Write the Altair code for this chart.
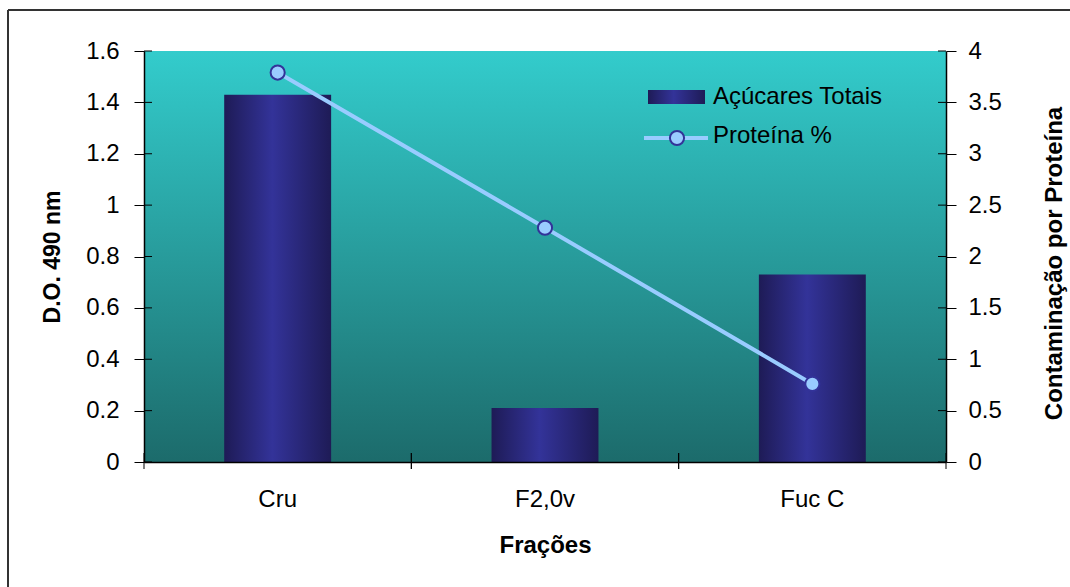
import altair as alt
import pandas as pd

# Frações analisadas e medidas
fracoes = ["Cru", "F2,0v", "Fuc C"]
acucares_totais = [1.43, 0.21, 0.73]      # D.O. 490 nm
proteina_pct = [3.79, 2.28, 0.76]         # contaminação por proteína
do_ticks = [0, 0.2, 0.4, 0.6, 0.8, 1.0, 1.2, 1.4, 1.6]
prot_ticks = [0, 0.5, 1, 1.5, 2, 2.5, 3, 3.5, 4]
series = ["Açúcares Totais", "Proteína %"]

W, H = 802, 411
FONT = "Liberation Sans"
LINE_BLUE = "#99CCFF"
NAVY = "#333399"
PAD_INNER, PAD_OUTER = 0.6, 0.3
STEP = W / (len(fracoes) - PAD_INNER + 2 * PAD_OUTER)
GAP = STEP * PAD_INNER / 2   # distance from a bar edge to the band boundary

df = pd.DataFrame({"fracao": fracoes, "acucares": acucares_totais, "proteina": proteina_pct})
ticks_df = pd.DataFrame({"do": do_ticks, "prot": prot_ticks})
legend_df = pd.DataFrame({"serie": series})
one_row = pd.DataFrame({"k": [0]})

bg_gradient = alt.LinearGradient(
    gradient="linear", x1=0, x2=0, y1=0, y2=1,
    stops=[alt.GradientStop(offset=0, color="#33CCCC"),
           alt.GradientStop(offset=1, color="#1C6B6B")],
)
bar_gradient = alt.LinearGradient(
    gradient="linear", x1=0, x2=1, y1=0, y2=0,
    stops=[alt.GradientStop(offset=0, color="#1E1B56"),
           alt.GradientStop(offset=0.45, color=NAVY),
           alt.GradientStop(offset=1, color="#1E1B56")],
)

label_style = dict(labelFont=FONT, labelFontSize=24, labelColor="black",
                   titleFont=FONT, titleFontWeight="bold",
                   titleColor="black", domainColor="black", tickColor="black",
                   domainWidth=1.5, grid=False, zindex=1)

x_scale = alt.Scale(paddingInner=PAD_INNER, paddingOuter=PAD_OUTER)
x_enc = alt.X(
    "fracao:N", sort=fracoes, scale=x_scale,
    axis=alt.Axis(title="Frações", labelAngle=0, ticks=False,
                  labelPadding=44, labelBaseline="alphabetic", titleFontSize=24,
                  titleX=W / 2, titleY=90, titleBaseline="alphabetic", **label_style),
)

# Fundo do gráfico em degradê
background = alt.Chart(one_row).mark_rect(color=bg_gradient).encode(
    x=alt.value(0), x2=alt.value(W), y=alt.value(0), y2=alt.value(H)
)

bars = alt.Chart(df).mark_bar(color=bar_gradient).encode(
    x=x_enc,
    y=alt.Y("acucares:Q", scale=alt.Scale(domain=[0, 1.6], nice=False),
            axis=alt.Axis(values=do_ticks, format="~g", title="D.O. 490 nm",
                          tickSize=10, labelPadding=15, titleAngle=270, titleFontSize=23,
                          titleX=-85, titleY=H / 2, titleBaseline="alphabetic",
                          **label_style)),
)

prot_scale = alt.Scale(domain=[0, 4], nice=False)

line = alt.Chart(df).mark_line(color=LINE_BLUE, strokeWidth=4).encode(
    x=alt.X("fracao:N", sort=fracoes),
    y=alt.Y("proteina:Q", scale=prot_scale,
            axis=alt.Axis(orient="right", values=prot_ticks, format="~g",
                          title="Contaminação por Proteína", tickSize=10,
                          labelPadding=12, titleAngle=270, titleFontSize=24,
                          titleX=115, titleY=212,
                          titleBaseline="alphabetic", **label_style)),
)

points = alt.Chart(df).mark_circle(size=200, color=LINE_BLUE, opacity=1,
                                   stroke=NAVY, strokeWidth=2).encode(
    x=alt.X("fracao:N", sort=fracoes),
    y=alt.Y("proteina:Q", scale=prot_scale, axis=None),
)

# Marcas de escala cruzando os eixos verticais (lado interno)
inner_left = alt.Chart(ticks_df).mark_rule(color="black", strokeWidth=1).encode(
    y=alt.Y("do:Q", scale=alt.Scale(domain=[0, 1.6], nice=False), axis=None),
    x=alt.value(0), x2=alt.value(8),
)
inner_right = alt.Chart(ticks_df).mark_rule(color="black", strokeWidth=1).encode(
    y=alt.Y("prot:Q", scale=prot_scale, axis=None),
    x=alt.value(W - 8), x2=alt.value(W),
)

# Marcas do eixo X nos limites entre as categorias
x_ticks_start = alt.Chart(df).mark_rule(color="black", strokeWidth=1, xOffset=-GAP).encode(
    x=alt.X("fracao:N", sort=fracoes, bandPosition=0),
    y=alt.value(H - 9), y2=alt.value(H + 7),
)
x_ticks_end = alt.Chart(df).mark_rule(color="black", strokeWidth=1, xOffset=GAP).encode(
    x=alt.X("fracao:N", sort=fracoes, bandPosition=1),
    y=alt.value(H - 9), y2=alt.value(H + 7),
)

# Legenda dentro da área do gráfico
leg_rect = alt.Chart(legend_df).transform_filter(
    alt.datum.serie == series[0]
).mark_rect(color=bar_gradient).encode(
    x=alt.value(504), x2=alt.value(561), y=alt.value(39), y2=alt.value(53)
)
leg_line = alt.Chart(legend_df).transform_filter(
    alt.datum.serie == series[1]
).mark_rule(color=LINE_BLUE, strokeWidth=4).encode(
    x=alt.value(500), x2=alt.value(564), y=alt.value(87)
)
leg_point = alt.Chart(legend_df).transform_filter(
    alt.datum.serie == series[1]
).mark_circle(size=200, color=LINE_BLUE, opacity=1, stroke=NAVY, strokeWidth=2).encode(
    x=alt.value(533), y=alt.value(87)
)
leg_text1 = alt.Chart(legend_df).transform_filter(
    alt.datum.serie == series[0]
).mark_text(align="left", baseline="alphabetic", font=FONT, fontSize=24,
            color="black").encode(text="serie:N", x=alt.value(569), y=alt.value(53))
leg_text2 = alt.Chart(legend_df).transform_filter(
    alt.datum.serie == series[1]
).mark_text(align="left", baseline="alphabetic", font=FONT, fontSize=24,
            color="black").encode(text="serie:N", x=alt.value(569), y=alt.value(92))

# Moldura externa
frame_top = alt.Chart(one_row).mark_rule(color="#333333", strokeWidth=2).encode(
    x=alt.value(-136), x2=alt.value(926), y=alt.value(-41)
)
frame_left = alt.Chart(one_row).mark_rule(color="#333333", strokeWidth=2).encode(
    x=alt.value(-136), y=alt.value(-41), y2=alt.value(536)
)

chart = alt.layer(
    background, bars, line, points, inner_left, inner_right, x_ticks_start, x_ticks_end,
    leg_rect, leg_line, leg_point, leg_text1, leg_text2, frame_top, frame_left,
).resolve_scale(y="independent").properties(
    width=W, height=H,
    autosize=alt.AutoSizeParams(type="none"),
    padding={"left": 144, "top": 51, "right": 124, "bottom": 125},
    background="white",
).configure_view(stroke="#808080", strokeWidth=2).configure(font=FONT)

chart.save("out.html", embed_options={"renderer": "svg", "actions": False})
